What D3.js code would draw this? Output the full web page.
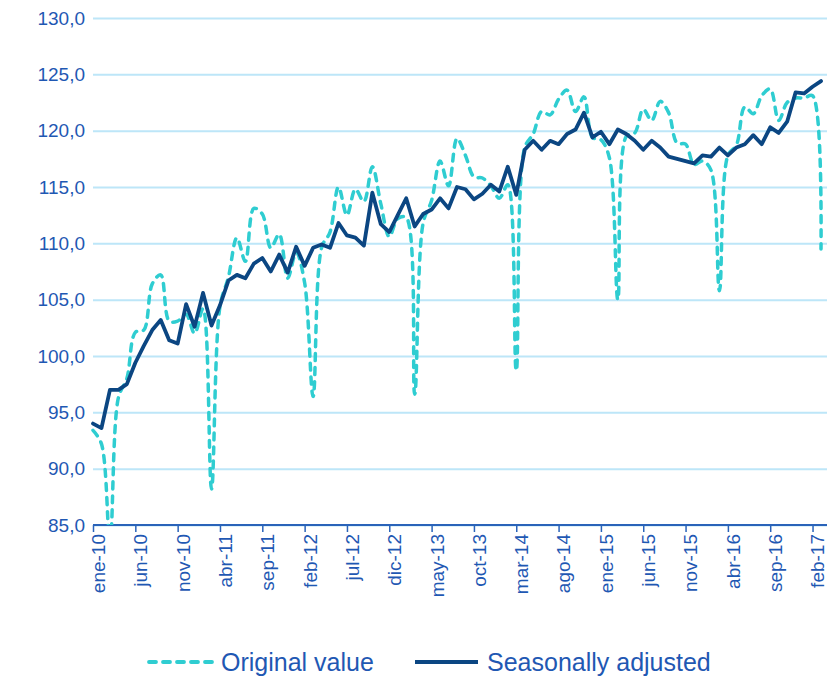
<!DOCTYPE html>
<html>
<head>
<meta charset="utf-8">
<script src="https://cdn.jsdelivr.net/npm/d3@7"></script>
<style>
  html, body { margin: 0; padding: 0; background: #fff; }
  svg { display: block; font-family: "Liberation Sans", Arial, sans-serif; }
</style>
</head>
<body>
<svg id="chart" width="833" height="676"></svg>
<script>
'use strict';

// Monthly index, ene-10 .. mar-17 (87 months)
var originalValue = [
  93.4, 92.2, 83.5, 96.3, 98.0, 102.1, 102.3, 106.4, 107.2, 103.1, 103.1, 103.7,
  102.0, 104.2, 88.2, 104.4, 107.0, 110.5, 108.4, 113.1, 112.6, 109.6, 110.8, 106.9,
  109.2, 106.5, 96.4, 109.6, 111.0, 115.0, 112.5, 114.8, 113.7, 116.8, 113.5, 110.6,
  112.2, 112.3, 96.6, 111.8, 113.8, 117.3, 115.1, 119.3, 117.8, 115.9, 115.8, 115.1,
  114.0, 115.2, 98.7, 118.5, 119.7, 121.7, 121.4, 122.8, 123.6, 121.7, 123.0, 119.4,
  119.2, 117.6, 105.0, 119.5, 119.8, 121.9, 120.9, 122.6, 121.6, 118.9, 118.8, 117.0,
  117.3, 116.5, 105.8, 117.8, 118.7, 122.1, 121.5, 123.1, 123.7, 120.9, 122.5, 122.9,
  122.9, 123.1, 109.5
];

var seasonallyAdjusted = [
  94.0, 93.6, 97.0, 97.0, 97.5, 99.4, 100.9, 102.3, 103.2, 101.4, 101.1, 104.6,
  102.6, 105.6, 102.7, 104.5, 106.7, 107.2, 106.9, 108.2, 108.7, 107.5, 109.0, 107.4,
  109.7, 108.0, 109.6, 109.9, 109.6, 111.8, 110.7, 110.5, 109.8, 114.5, 111.7, 111.0,
  112.5, 114.0, 111.5, 112.6, 113.0, 114.0, 113.1, 115.0, 114.8, 113.9, 114.4, 115.2,
  114.6, 116.8, 114.3, 118.3, 119.1, 118.3, 119.1, 118.8, 119.7, 120.1, 121.6, 119.4,
  119.9, 118.8, 120.1, 119.7, 119.1, 118.3, 119.1, 118.5, 117.7, 117.5, 117.3, 117.1,
  117.8, 117.7, 118.5, 117.8, 118.5, 118.8, 119.6, 118.8, 120.3, 119.8, 120.8, 123.4,
  123.3, 123.9, 124.4
];

// one label every 5 months
var tickLabels = [
  'ene-10', 'jun-10', 'nov-10', 'abr-11', 'sep-11', 'feb-12', 'jul-12', 'dic-12', 'may-13',
  'oct-13', 'mar-14', 'ago-14', 'ene-15', 'jun-15', 'nov-15', 'abr-16', 'sep-16', 'feb-17'
];
var tickStep = 5;

var yTicks = [85, 90, 95, 100, 105, 110, 115, 120, 125, 130];

var seriesNames = ['Original value', 'Seasonally adjusted'];

var COLOR_ORIG = '#2fcdd1';
var COLOR_SA = '#0b4682';
var COLOR_TEXT = '#1f58b3';
var COLOR_GRID = '#bde6f8';
var COLOR_AXIS = '#2a63b9';

var plot = {left: 93, right: 827, top: 18, bottom: 525};

var svg = d3.select('#chart');

var x = d3.scaleLinear()
    .domain([0, originalValue.length - 1])
    .range([plot.left, 821]);

var y = d3.scaleLinear()
    .domain([85, 130])
    .range([plot.bottom, plot.top]);

var fmt = function(v) { return d3.format('.1f')(v).replace('.', ','); };

// gridlines + y labels
var yAxis = svg.append('g')
    .attr('transform', 'translate(' + plot.left + ',0)')
    .call(d3.axisLeft(y)
        .tickValues(yTicks)
        .tickSize(-(plot.right - plot.left))
        .tickPadding(8)
        .tickFormat(fmt));

yAxis.select('.domain').remove();
yAxis.selectAll('.tick line')
    .attr('stroke', COLOR_GRID)
    .attr('stroke-width', 2);
yAxis.selectAll('.tick text')
    .attr('fill', COLOR_TEXT)
    .style('font-size', '19px');

// x axis
var tickIdx = tickLabels.map(function(d, i) { return i * tickStep; });

var xAxis = svg.append('g')
    .attr('transform', 'translate(0,' + plot.bottom + ')')
    .call(d3.axisBottom(x)
        .tickValues(tickIdx)
        .tickSize(7)
        .tickFormat(function(d) { return tickLabels[d / tickStep]; }));

xAxis.select('.domain').remove();
xAxis.selectAll('.tick line')
    .attr('stroke', COLOR_AXIS)
    .attr('stroke-width', 1.5);
xAxis.selectAll('.tick text')
    .attr('fill', COLOR_TEXT)
    .style('font-size', '19px')
    .attr('text-anchor', 'end')
    .attr('transform', 'rotate(-90)')
    .attr('x', -9)
    .attr('y', 0)
    .attr('dy', '0.6em');

xAxis.append('line')
    .attr('x1', plot.left)
    .attr('x2', plot.right)
    .attr('y1', 0)
    .attr('y2', 0)
    .attr('stroke', COLOR_AXIS)
    .attr('stroke-width', 2);

// clip for lines
svg.append('clipPath')
    .attr('id', 'plot-clip')
    .append('rect')
    .attr('x', plot.left - 5)
    .attr('y', plot.top - 5)
    .attr('width', plot.right - plot.left + 10)
    .attr('height', plot.bottom - plot.top + 5);

var lineOrig = d3.line()
    .x(function(d, i) { return x(i); })
    .y(function(d) { return y(d); })
    .curve(d3.curveCatmullRom.alpha(0.5));

var lineSA = d3.line()
    .x(function(d, i) { return x(i); })
    .y(function(d) { return y(d); });

var lines = svg.append('g').attr('clip-path', 'url(#plot-clip)');

lines.append('path')
    .datum(originalValue)
    .attr('d', lineOrig)
    .attr('fill', 'none')
    .attr('stroke', COLOR_ORIG)
    .attr('stroke-width', 3.5)
    .attr('stroke-linecap', 'round')
    .attr('stroke-dasharray', '7,7');

lines.append('path')
    .datum(seasonallyAdjusted)
    .attr('d', lineSA)
    .attr('fill', 'none')
    .attr('stroke', COLOR_SA)
    .attr('stroke-width', 3.8)
    .attr('stroke-linejoin', 'round')
    .attr('stroke-linecap', 'round');

// legend
var legend = svg.append('g').attr('transform', 'translate(0,662)');
var legendItems = [
  {name: seriesNames[0], x: 149, color: COLOR_ORIG, dash: '7,7'},
  {name: seriesNames[1], x: 415, color: COLOR_SA, dash: null}
];

legendItems.forEach(function(it) {
  legend.append('line')
      .attr('x1', it.x)
      .attr('x2', it.x + 63)
      .attr('y1', 0)
      .attr('y2', 0)
      .attr('stroke', it.color)
      .attr('stroke-width', 3.8)
      .attr('stroke-linecap', it.dash ? 'round' : 'butt')
      .attr('stroke-dasharray', it.dash);
  legend.append('text')
      .attr('x', it.x + 72)
      .attr('y', 0)
      .attr('dy', '0.36em')
      .attr('fill', COLOR_TEXT)
      .style('font-size', '25px')
      .text(it.name);
});
</script>
</body>
</html>
